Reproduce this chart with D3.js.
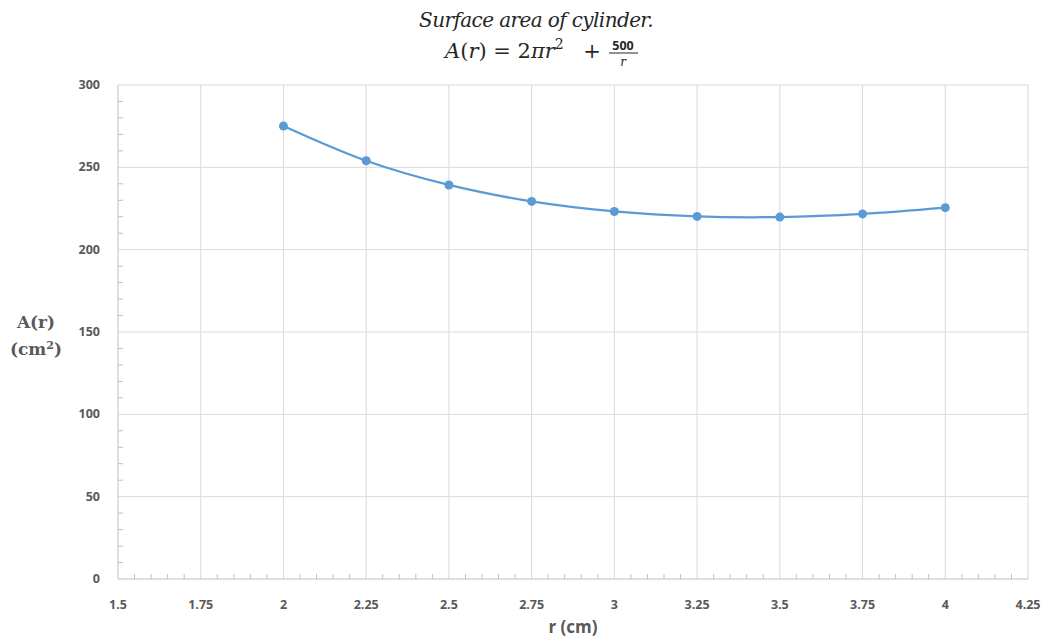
<!DOCTYPE html>
<html lang="en">
<head>
<meta charset="UTF-8">
<script src="https://d3js.org/d3.v7.min.js"></script>
<title>Surface area of cylinder</title>
<style>
  body { margin: 0; background: #fff; }
</style>
</head>
<body>
<script>
    // Data
    const radius = [2, 2.25, 2.5, 2.75, 3, 3.25, 3.5, 3.75, 4];
    const area = [275.1, 254.0, 239.3, 229.3, 223.2, 220.2, 219.8, 221.7, 225.5];
    const xTicks = [1.5, 1.75, 2, 2.25, 2.5, 2.75, 3, 3.25, 3.5, 3.75, 4, 4.25];
    const yTicks = [0, 50, 100, 150, 200, 250, 300];

    const width = 1046, height = 640;
    const margin = { top: 85, right: 18, bottom: 61, left: 118 };

    const svg = d3.select("body").append("svg")
        .attr("width", width)
        .attr("height", height);

    const x = d3.scaleLinear().domain([1.5, 4.25]).range([margin.left, width - margin.right]);
    const y = d3.scaleLinear().domain([0, 300]).range([height - margin.bottom, margin.top]);

    const grey = "#d9d9d9";
    const labelColor = "#595959";

    // Gridlines
    svg.append("g").selectAll("line").data(yTicks.slice(1)).join("line")
        .attr("x1", x(1.5)).attr("x2", x(4.25))
        .attr("y1", d => y(d)).attr("y2", d => y(d))
        .attr("stroke", grey).attr("stroke-width", 1);
    svg.append("g").selectAll("line").data(xTicks.slice(1)).join("line")
        .attr("x1", d => x(d)).attr("x2", d => x(d))
        .attr("y1", y(0)).attr("y2", y(300))
        .attr("stroke", grey).attr("stroke-width", 1);

    // Minor ticks
    const yMinor = d3.range(0, 301, 10).filter(d => d % 50 !== 0);
    svg.append("g").selectAll("line").data(yMinor).join("line")
        .attr("x1", x(1.5)).attr("x2", x(1.5) + 5)
        .attr("y1", d => y(d)).attr("y2", d => y(d))
        .attr("stroke", "#bfbfbf");
    const xMinor = d3.range(0, 56).map(i => 1.5 + i * 0.05).filter((d, i) => i % 5 !== 0);
    svg.append("g").selectAll("line").data(xMinor).join("line")
        .attr("x1", d => x(d)).attr("x2", d => x(d))
        .attr("y1", y(0)).attr("y2", y(0) - 5)
        .attr("stroke", "#bfbfbf");

    // Axes lines
    svg.append("line").attr("x1", x(1.5)).attr("x2", x(4.25))
        .attr("y1", y(0)).attr("y2", y(0)).attr("stroke", "#bfbfbf");
    svg.append("line").attr("x1", x(1.5)).attr("x2", x(1.5))
        .attr("y1", y(0)).attr("y2", y(300)).attr("stroke", "#bfbfbf");

    // Tick labels
    svg.append("g").selectAll("text").data(yTicks).join("text")
        .attr("x", x(1.5) - 18).attr("y", d => y(d) + 4)
        .attr("text-anchor", "end")
        .attr("font-family", "Open Sans, sans-serif").attr("font-weight", "bold")
        .attr("font-size", 12.5).attr("fill", labelColor)
        .text(d => d);
    svg.append("g").selectAll("text").data(xTicks).join("text")
        .attr("x", d => x(d)).attr("y", y(0) + 30)
        .attr("text-anchor", "middle")
        .attr("font-family", "Open Sans, sans-serif").attr("font-weight", "bold")
        .attr("font-size", 12.5).attr("fill", labelColor)
        .text(d => d);

    // Axis titles
    svg.append("text")
        .attr("x", x(2.875)).attr("y", 633)
        .attr("text-anchor", "middle")
        .attr("font-family", "Open Sans, sans-serif").attr("font-weight", "bold")
        .attr("font-size", 17).attr("fill", labelColor)
        .text("r (cm)");
    const yt = svg.append("text")
        .attr("text-anchor", "middle")
        .attr("font-family", "DejaVu Serif, serif").attr("font-weight", "bold")
        .attr("font-size", 17).attr("fill", labelColor);
    yt.append("tspan").attr("x", 36).attr("y", 328).text("A(r)");
    const yt2 = yt.append("tspan").attr("x", 36).attr("y", 355).text("(cm");
    yt2.append("tspan").attr("dy", -6).attr("font-size", 11).text("2");
    yt2.append("tspan").attr("dy", 6).text(")");

    // Line
    const line = d3.line()
        .x((d, i) => x(radius[i]))
        .y(d => y(d))
        .curve(d3.curveCatmullRom);
    svg.append("path").datum(area)
        .attr("d", line)
        .attr("fill", "none")
        .attr("stroke", "#5b9bd5")
        .attr("stroke-width", 2.25);
    svg.append("g").selectAll("circle").data(area).join("circle")
        .attr("cx", (d, i) => x(radius[i]))
        .attr("cy", d => y(d))
        .attr("r", 4.5)
        .attr("fill", "#5b9bd5");

    // Title
    svg.append("text")
        .attr("x", 536).attr("y", 27)
        .attr("text-anchor", "middle")
        .attr("font-family", "DejaVu Serif, serif").attr("font-style", "italic")
        .attr("font-size", 20).attr("letter-spacing", -0.6).attr("fill", "#262626")
        .text("Surface area of cylinder.");
    const f = svg.append("text")
        .attr("x", 445).attr("y", 58)
        .attr("font-family", "DejaVu Serif, serif")
        .attr("font-size", 21).attr("fill", "#262626");
    f.append("tspan").attr("font-style", "italic").text("A");
    f.append("tspan").text("(");
    f.append("tspan").attr("font-style", "italic").text("r");
    f.append("tspan").text(")  =  2");
    f.append("tspan").attr("font-style", "italic").text("πr");
    f.append("tspan").attr("dy", -9).attr("font-size", 14).text("2");
    svg.append("text")
        .attr("x", 592).attr("y", 58)
        .attr("text-anchor", "middle")
        .attr("font-family", "DejaVu Serif, serif")
        .attr("font-size", 21).attr("fill", "#262626")
        .text("+");
    svg.append("text")
        .attr("x", 623).attr("y", 50)
        .attr("text-anchor", "middle")
        .attr("font-family", "Open Sans, sans-serif").attr("font-weight", "bold")
        .attr("font-size", 12.5).attr("fill", "#262626")
        .text("500");
    svg.append("line").attr("x1", 609).attr("x2", 638)
        .attr("y1", 53).attr("y2", 53).attr("stroke", "#262626").attr("stroke-width", 1);
    svg.append("text")
        .attr("x", 623).attr("y", 66)
        .attr("text-anchor", "middle")
        .attr("font-family", "DejaVu Serif, serif").attr("font-style", "italic")
        .attr("font-size", 12).attr("fill", "#262626")
        .text("r");
</script>
</body>
</html>
